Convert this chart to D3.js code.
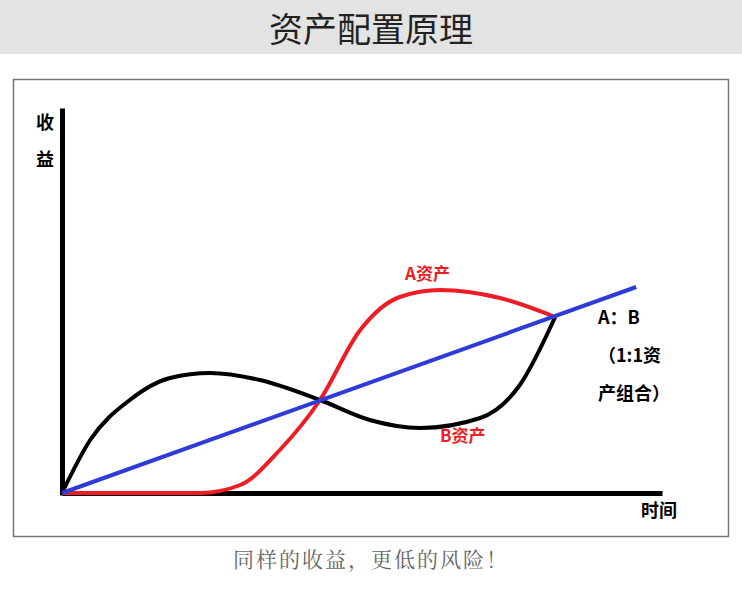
<!DOCTYPE html><html><head><meta charset="utf-8">
<script src="https://cdn.jsdelivr.net/npm/d3@7"></script>
<style>body{margin:0;background:#fff}</style></head><body><svg id="c" width="742" height="600"></svg>
<script>
const title="资产配置原理";
const footer="同样的收益，更低的风险！";
const blackX=[0,4.7,11.3,18,24.7,33,43,51.3,59.7,69.7,76.3,82.2];
const blackY=[0,13.25,23.25,28.75,30,28.25,23.25,18.25,16.25,18.75,27,44];
const redX=[0,23,29.7,36.3,43,49.7,56.3,63,73,82.2];
const redY=[0,0,2,10.75,23.25,40.75,49,50.75,48.75,44];
const blueX=[0,95.7];
const blueY=[0,51.5];
const svg=d3.select("#c");
const F="'Noto Sans CJK SC',sans-serif";
svg.append("rect").attr("x",0).attr("y",0).attr("width",742).attr("height",54).attr("fill","#e3e3e3");
svg.append("text").attr("x",371).attr("y",42).attr("text-anchor","middle").attr("font-family",F).attr("font-size",34).attr("fill","#222").text(title);
svg.append("rect").attr("x",13.5).attr("y",79.5).attr("width",715).attr("height",457).attr("fill","none").attr("stroke","#777").attr("stroke-width",1.5);
const x=d3.scaleLinear().domain([0,100]).range([62,662]);
const y=d3.scaleLinear().domain([0,100]).range([493,93]);
const axX=svg.append("g").attr("transform","translate(0,"+y(0)+")").call(d3.axisBottom(x).tickValues([]).tickSizeOuter(0));
axX.select(".domain").attr("stroke","#000").attr("stroke-width",5);
const axY=svg.append("g").attr("transform","translate("+x(0)+",0)").call(d3.axisLeft(d3.scaleLinear().domain([0,100]).range([495,108])).tickValues([]).tickSizeOuter(0));
axY.select(".domain").attr("stroke","#000").attr("stroke-width",5);
const line=d3.line().x(d=>x(d[0])).y(d=>y(d[1])).curve(d3.curveMonotoneX);
const zip=(a,b)=>a.map((v,i)=>[v,b[i]]);
svg.append("path").attr("d",line(zip(blackX,blackY))).attr("fill","none").attr("stroke","#000").attr("stroke-width",4);
svg.append("path").attr("d",line(zip(redX,redY))).attr("fill","none").attr("stroke","#ee1c25").attr("stroke-width",4);
svg.append("path").attr("d",line(zip(blueX,blueY))).attr("fill","none").attr("stroke","#2e3bd6").attr("stroke-width",4);
const t=(tx,ty,s,c,sz)=>svg.append("text").attr("x",tx).attr("y",ty).attr("font-family",F).attr("font-weight","bold").attr("font-size",sz||18).attr("fill",c||"#000").text(s);
t(36,129,"收");t(36,166,"益");t(641,517,"时间");
t(405,280,"A资产","#ee1c25",17);t(440,442,"B资产","#ee1c25",17);
t(598,324,"A：B",null,18);t(598,362,"（1:1资",null,18);t(598,400,"产组合）",null,18);
svg.append("text").attr("x",371).attr("y",567).attr("text-anchor","middle").attr("font-family","'Noto Serif CJK SC','Noto Sans CJK SC',serif").attr("font-size",21).attr("letter-spacing",2).attr("fill","#666").text(footer);
</script></body></html>
